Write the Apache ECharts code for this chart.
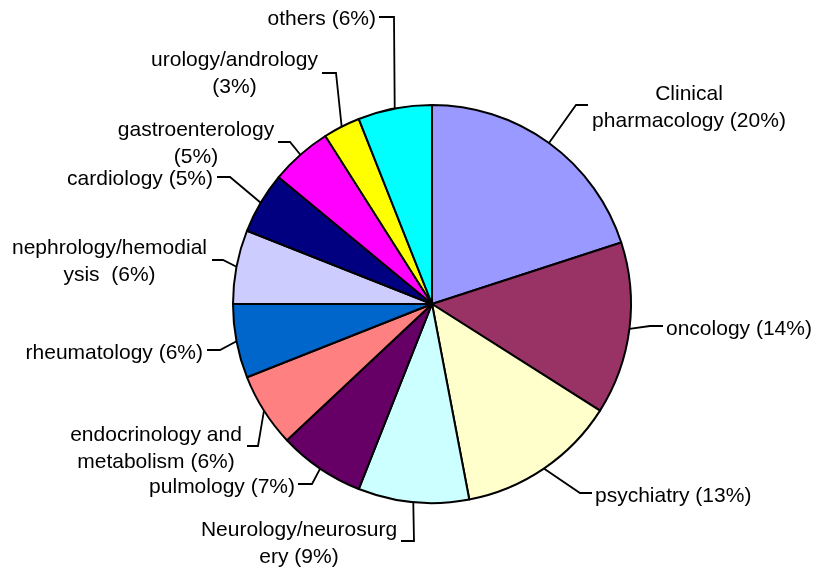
<!DOCTYPE html>
<html>
<head>
<meta charset="utf-8">
<title>Specialties</title>
<script src="https://cdn.jsdelivr.net/npm/echarts@6/dist/echarts.min.js"></script>
<style>
  html, body { margin: 0; padding: 0; background: #ffffff; }
  #chart { width: 815px; height: 570px; }
</style>
</head>
<body>
<div id="chart"></div>
<script>
// Specialty names, clockwise from twelve o'clock
const categories = [
  'Clinical pharmacology', 'oncology', 'psychiatry', 'Neurology/neurosurgery',
  'pulmology', 'endocrinology and metabolism', 'rheumatology',
  'nephrology/hemodialysis', 'cardiology', 'gastroenterology',
  'urology/andrology', 'others'
];

// Share of each specialty, in percent
const shares = [20, 14, 13, 9, 7, 6, 6, 6, 5, 5, 3, 6];

// Wrapped label heads; the percentage is appended from `shares`
const labelHeads = [
  'Clinical\npharmacology ', 'oncology ', 'psychiatry ', 'Neurology/neurosurg\nery ',
  'pulmology ', 'endocrinology and\nmetabolism ', 'rheumatology ',
  'nephrology/hemodial\nysis  ', 'cardiology ', 'gastroenterology\n',
  'urology/andrology\n', 'others '
];

// Slice fills
const sliceColors = [
  '#9999FF', '#993366', '#FFFFCC', '#CCFFFF', '#660066', '#FF8080',
  '#0066CC', '#CCCCFF', '#000080', '#FF00FF', '#FFFF00', '#00FFFF'
];

// Where each label sits, and the elbow / end of its leader line
const labelSpots = [
  { x: 689, y: 107.5, align: 'center', elbow: [576, 105], end: [588, 105] },
  { x: 666, y: 329.5, align: 'left',   elbow: [650, 326], end: [663, 326] },
  { x: 595, y: 496.5, align: 'left',   elbow: [580, 493], end: [592, 493] },
  { x: 299, y: 543.5, align: 'center', elbow: [414, 541], end: [401, 541] },
  { x: 295, y: 487.5, align: 'right',  elbow: [312, 484], end: [298, 484] },
  { x: 156, y: 448.5, align: 'center', elbow: [258, 446], end: [247, 446] },
  { x: 203, y: 353.5, align: 'right',  elbow: [220, 350], end: [207, 350] },
  { x: 109.5, y: 261.5, align: 'center', elbow: [223, 260], end: [212, 260] },
  { x: 213, y: 179.5, align: 'right',  elbow: [230, 177], end: [217, 177] },
  { x: 196, y: 144,   align: 'center', elbow: [290, 142], end: [278, 142] },
  { x: 234.5, y: 74,  align: 'center', elbow: [336, 73],  end: [322, 73] },
  { x: 376, y: 19.5,  align: 'right',  elbow: [394, 17],  end: [379, 17] }
];

const chart = echarts.init(document.getElementById('chart'), null, { renderer: 'canvas' });

chart.setOption({
  backgroundColor: '#ffffff',
  animation: false,
  series: [{
    type: 'pie',
    center: [432, 304],
    radius: 199,
    startAngle: 90,
    clockwise: true,
    avoidLabelOverlap: false,
    emphasis: { disabled: true },
    itemStyle: { borderColor: '#000000', borderWidth: 2 },
    label: {
      show: true,
      position: 'outside',
      color: '#000000',
      fontFamily: '"Liberation Sans", Arial, sans-serif',
      fontSize: 21,
      lineHeight: 27,
      formatter: function (p) {
        return labelHeads[p.dataIndex] + '(' + shares[p.dataIndex] + '%)';
      }
    },
    labelLine: {
      show: true,
      length: 10,
      length2: 10,
      lineStyle: { color: '#000000', width: 1.8 }
    },
    labelLayout: function (p) {
      const s = labelSpots[p.dataIndex];
      const out = { x: s.x, y: s.y, align: s.align, verticalAlign: 'middle', hideOverlap: false };
      if (p.labelLinePoints && p.labelLinePoints.length) {
        out.labelLinePoints = [p.labelLinePoints[0], s.elbow, s.end];
      }
      return out;
    },
    data: categories.map(function (name, i) {
      return { name: name, value: shares[i], itemStyle: { color: sliceColors[i] } };
    })
  }]
});
</script>
</body>
</html>
